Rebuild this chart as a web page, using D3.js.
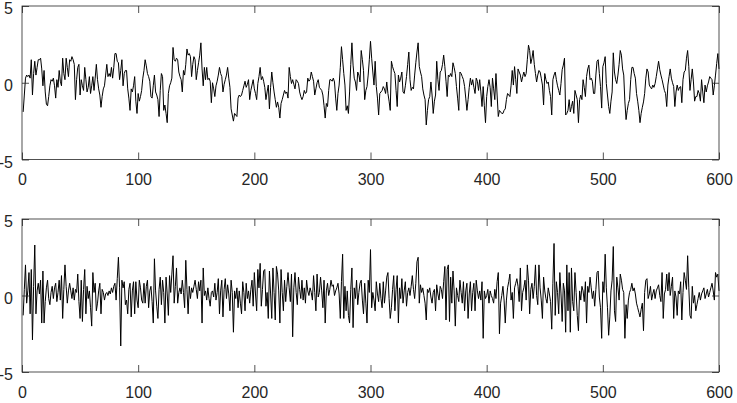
<!DOCTYPE html>
<html>
<head>
<meta charset="utf-8">
<script src="https://cdn.jsdelivr.net/npm/d3@7"></script>
<style>
  body { margin: 0; background: #fff; }
  svg text { font-family: "Liberation Sans", Arial, Helvetica, sans-serif; }
</style>
</head>
<body>
<div id="chart"></div>
<script>
// senal superior (600 muestras)
const serie1 = [
  -1.9, -0.8, 0.3, 0.5, 0.4, 0.5, 0.3, 1.5, -0.8, 0.6,
  1.4, 0.5, 1.0, 1.5, 1.5, 1.6, 0.9, -0.2, 0.8, -0.6,
  -1.4, -1.5, -0.9, -0.2, 0.2, 0.1, 0.3, -0.2, -1.0, 0.2,
  -0.3, 0.8, 0.1, -0.2, 1.6, 0.6, 0.2, 1.6, 1.0, 0.4,
  1.5, 1.4, 1.7, 1.5, 1.2, -1.1, 0.2, 1.0, 1.2, -0.8,
  0.2, -0.2, -0.5, 1.0, 0.2, -0.6, -0.3, 0.4, -0.7, -0.2,
  0.4, -0.5, 0.3, 1.2, 0.2, -0.4, -0.8, -1.6, -0.9, -0.4,
  -0.2, 0.5, 1.2, 0.4, 0.6, 0.4, 1.0, 0.3, 1.0, 1.9,
  1.9, 1.4, 1.3, 0.2, 0.8, 1.5, -0.2, 0.6, 0.8, 0.8,
  -0.4, -1.0, -1.8, -0.4, -0.6, -0.2, 0.4, -1.2, -2.0, -0.7,
  -1.2, -0.9, -0.5, 0.3, 0.8, 1.5, 1.1, 0.6, 0.4, 0.1,
  -0.9, -1.0, -0.2, 0.5, -0.6, -0.8, -1.1, -2.2, -0.5, 0.6,
  0.4, -1.8, -1.45, -2.0, -2.6, -0.7, -0.2, 0.0, 0.3, 2.3,
  1.5, 1.4, 1.6, 1.5, 0.7, 0.4, 0.2, -0.6, 0.8, 0.5,
  1.2, 2.2, 1.8, 1.9, 1.7, 0.4, 1.2, 1.7, 1.5, 0.2,
  0.8, 1.3, 1.8, 2.6, 0.9, -0.2, 1.0, 0.2, 1.0, 0.2,
  0.3, 0.1, -1.3, 0.0, -0.4, -0.9, -0.2, 0.1, 0.5, 1.0,
  0.6, 0.4, -0.6, -0.1, 0.2, 0.5, 1.0, 0.3, -0.3, -1.7,
  -2.1, -2.5, -2.0, -2.1, -2.2, -1.0, -0.8, -0.9, -0.8, -0.5,
  -0.2, 0.1, -0.3, -0.1, 0.2, -1.1, -0.5, -0.15, 0.2, -0.4,
  -0.7, -1.1, -0.05, 0.4, 1.0, 0.2, 0.4, 0.1, -0.3, -1.1,
  -0.6, -0.15, -1.7, -0.3, 0.7, 0.0, -0.6, -1.1, -1.6, -1.25,
  -1.6, -2.3, -1.35, -1.1, -0.8, -0.5, -0.7, -0.6, -1.0, 1.0,
  0.4, -0.05, 0.2, -0.1, -0.4, 0.2, 0.1, -0.05, -0.6, -0.9,
  -1.1, -0.9, -0.5, -0.7, -0.6, 0.3, 0.1, 0.2, 0.7, 0.4,
  0.1, -0.8, -0.4, 0.0, 0.2, -0.3, -0.4, -0.5, -0.8, -1.5,
  -2.3, -1.35, -1.55, -0.5, 0.2, 0.2, 0.1, 0.3, 0.05, -1.0,
  -1.8, -0.7, -0.15, 1.0, 2.35, 1.5, 0.6, -0.15, -1.8, -1.5,
  -2.0, -0.6, 1.2, 2.6, 1.15, 0.3, 0.05, -0.5, 0.7, 0.5,
  0.05, 2.1, 1.5, 0.8, -1.1, -0.5, -0.25, 0.5, 1.5, 2.7,
  1.6, 0.7, -0.15, 1.4, -0.25, -1.0, -2.1, -0.7, -0.6, -0.5,
  -0.25, -0.4, -0.7, 0.05, -0.7, -1.2, -1.8, 1.4, 1.05, 0.8,
  0.6, -0.5, -1.55, 0.5, 0.05, 0.3, 0.7, -0.6, -0.7, -0.2,
  0.4, 1.2, 2.0, 0.2, -0.5, -0.3, -0.4, 0.5, 1.3, 2.0,
  2.6, 1.05, 0.7, 0.4, -0.4, -0.8, -1.1, -2.75, -1.8, -1.1,
  -0.9, 0.05, -0.8, -2.0, -1.2, -0.8, 1.4, 0.2, -0.5, 0.7,
  0.8, 1.2, 1.8, 1.05, 0.1, -0.9, 0.5, 0.4, 0.6, 0.4,
  1.3, 1.0, 0.6, -0.25, -1.0, -1.8, 0.7, 0.6, 0.4, 0.2,
  -0.25, -1.0, -1.8, -1.1, -0.3, 0.3, -0.15, 0.2, -0.3, -0.7,
  0.3, 0.1, -0.5, 0.2, -0.6, -1.55, -0.25, -1.5, -2.6, -0.9,
  -0.25, 0.2, -0.3, -1.55, 0.3, -0.4, -1.1, 0.6, -0.8, -2.2,
  -1.8, -1.9, -2.0, -2.0, -1.8, -1.7, -1.1, -0.7, -0.8, -0.9,
  -0.2, 0.8, -0.15, 1.05, 0.2, -0.7, 0.9, 0.7, 0.5, 0.05,
  0.4, 0.7, 0.4, 0.6, 1.5, 2.45, 2.1, 1.25, 1.6, 2.1,
  1.2, 0.6, 0.05, 0.5, 0.8, 0.7, 0.3, -0.15, -1.45, 0.6,
  0.2, -0.05, 0.05, -0.5, -0.9, -2.1, 0.2, 0.5, 0.7, 0.2,
  -0.2, -0.5, -0.8, -0.05, 0.85, 1.15, 1.6, -2.1, -2.0, -1.8,
  -1.1, -1.9, -1.55, -1.2, -2.0, -0.5, -0.8, -1.1, -2.6, -1.1,
  -0.8, -1.1, 0.2, -0.3, -0.9, 0.4, 0.9, 1.15, 0.2, 0.3,
  0.1, -0.7, -0.7, 0.5, 1.4, 1.5, 0.6, -0.25, -1.65, 1.05,
  1.3, 1.7, -0.05, -0.8, -1.55, -2.0, -1.2, -0.6, 1.95, 0.7,
  0.2, -0.05, 0.5, 1.2, 2.1, 1.8, 0.9, 0.5, -1.25, -2.4,
  -1.8, -1.35, -1.1, 0.2, 1.0, 1.0, 0.6, 0.3, -0.7, -1.2,
  -1.8, -2.6, -2.0, -1.6, -1.25, -0.7, 0.3, 0.9, 0.7, -0.15,
  -0.3, -0.4, -0.15, -0.3, -0.05, 0.4, 0.9, 1.4, 0.85, 0.5,
  0.2, -0.15, -0.5, -0.7, -1.55, -0.15, 0.4, 0.9, 0.3, 0.0,
  -0.25, -1.55, -0.6, -0.15, -0.5, -0.3, -0.25, -1.3, 0.2, 0.7,
  0.8, 1.6, 2.1, 1.05, -0.5, 0.2, 0.9, 0.05, -1.2, -0.9,
  -0.9, -0.5, -0.7, -1.2, 0.2, -0.6, -1.3, -0.15, -0.6, -0.2,
  0.05, 0.4, 0.3, 0.2, -0.8, -0.2, 0.5, 1.25, 1.9, 0.9
];

// senal inferior (600 muestras)
const serie2 = [
  -1.3, 0.4, 2.0, -0.5, 0.3, 1.5, -1.2, 1.7, -2.9, 0.6,
  3.3, -1.2, 0.3, 0.8, 0.1, 1.0, -1.8, 1.6, -1.8, -0.4,
  0.5, 1.0, -0.2, -0.6, 0.2, 0.6, -0.2, 0.5, 0.8, -0.4,
  0.2, 1.0, -0.3, 1.3, -1.5, 0.4, 2.0, 0.6, -0.5, 0.3,
  0.8, 0.3, -0.2, 0.5, -0.3, 0.4, 0.2, 1.4, -0.4, -1.5,
  1.0, -1.7, 0.4, 1.7, -1.2, 0.6, -0.2, 0.3, -0.8, -2.0,
  1.5, 0.2, 0.8, -1.0, -0.5, 0.3, 0.8, -1.2, 0.4, 0.2,
  -0.3, 0.1, 0.2, 0.0, 0.3, 0.1, 0.5, 0.2, 0.6, 0.8,
  -0.3, 1.1, 2.5, 0.5, -3.3, 1.0, 0.5, 0.9, -0.6, -0.3,
  -1.2, 0.4, 0.8, -1.4, 0.3, 0.9, -1.2, 0.9, -0.3, -0.8,
  1.0, 0.5, -0.3, -0.5, 0.8, -0.5, 0.6, 1.0, -0.8, 0.3,
  0.6, -0.4, -1.8, 2.4, 0.3, -0.7, -1.5, 0.4, 1.2, -0.6,
  1.0, 0.2, -1.8, 1.2, 0.1, -1.3, 1.3, 0.2, 1.4, 2.6,
  -0.5, 0.6, 1.8, -0.5, 0.2, 0.5, 0.1, 1.0, 0.2, -0.8,
  2.3, 0.4, -1.2, 0.6, -0.2, 0.5, 0.2, 0.6, 1.0, 0.4,
  -0.2, 0.9, 0.3, 1.0, -1.8, 1.8, 0.0, 0.3, -0.3, 0.5,
  -0.2, -0.7, 0.2, 0.3, -0.1, 0.8, -0.3, 0.2, 1.1, -1.2,
  0.3, 1.0, -1.4, 0.4, 1.1, -0.2, 0.7, 0.1, -1.0, 1.0,
  0.2, -2.4, 0.3, -0.2, 0.5, -0.8, 0.3, -0.5, -1.2, 0.9,
  0.2, -1.0, 0.8, -0.2, 0.3, -0.5, 0.4, 1.0, -0.7, 1.5,
  0.1, -1.0, 1.7, 0.5, 2.1, -0.7, 0.4, 1.6, 1.7, -0.7,
  0.2, -1.5, 1.6, 0.1, -1.5, 1.8, 0.2, -1.6, 1.9, 1.4,
  0.3, -1.8, 1.7, 0.2, -1.0, 1.0, -0.4, 0.6, 1.5, 0.5,
  -0.4, 1.4, -2.7, 0.5, 1.5, 0.2, -0.6, 1.2, 0.4, -0.2,
  1.0, -0.3, 0.5, -0.5, 1.0, 0.3, 0.0, 0.5, 0.2, -0.3,
  1.3, 0.2, -1.0, 1.4, -0.1, 0.2, 1.2, 0.3, -0.8, 1.0,
  -1.8, 0.3, 0.8, 0.0, 0.4, 1.0, 0.6, 0.7, 0.0, 0.3,
  0.5, 0.8, 0.1, -1.5, 0.9, 2.7, -1.5, 0.6, -1.0, 0.3,
  -1.3, -1.8, 0.4, 1.8, -2.1, 0.5, -0.2, 1.0, -0.6, 0.2,
  0.8, 1.0, -0.3, -1.2, 0.8, -0.5, -1.8, 1.0, 0.2, 3.0,
  -0.8, 0.2, -0.3, -1.0, 0.9, 0.1, -0.4, 0.8, -0.2, -0.8,
  0.9, -0.5, 0.3, 1.2, 1.5, -0.2, -1.5, -0.8, 0.4, 1.3,
  -1.0, 0.4, 1.3, -1.8, 0.5, -0.2, 1.1, -0.5, 0.3, 0.9,
  -0.7, 0.2, 0.5, 0.0, 0.6, 1.3, 0.4, -0.2, 0.8, 2.2,
  2.5, -0.5, 0.7, 0.2, 0.5, 0.0, -0.5, -1.6, 0.4, 0.2,
  0.5, -0.1, -0.5, 0.2, 0.4, -1.0, 0.7, 0.1, -0.3, 0.6,
  0.4, -0.2, 0.9, 1.9, -1.6, 1.7, 2.0, -1.7, 1.2, -0.5,
  1.6, 0.3, -2.0, 0.5, 0.0, -0.4, 1.0, 0.2, -0.5, 0.9,
  -1.0, 0.3, 0.8, -1.5, 0.1, 0.9, -1.0, 0.2, 0.8, -1.0,
  1.0, 0.3, -0.2, 0.3, -0.3, 0.9, -2.8, 0.3, -0.2, 0.0,
  0.4, -0.5, 0.3, 0.0, -0.2, -0.5, 0.4, -0.2, 0.9, 1.5,
  -2.5, -0.5, 0.0, 0.6, -0.3, -1.8, -0.3, 0.5, 0.9, 1.4,
  -0.3, 0.2, -1.5, 0.5, 0.8, 1.1, 0.6, -0.4, 1.8, -1.0,
  0.2, 0.5, 1.0, -0.3, 2.0, 1.0, -1.2, 0.4, 0.8, -0.2,
  0.6, 2.0, 0.0, -0.6, 2.0, 0.5, -0.3, -1.5, 1.2, 0.3,
  -0.2, -0.5, 0.5, 0.1, -0.4, -2.2, 0.8, 3.4, -1.3, 0.9,
  0.2, -1.2, 1.5, 0.1, -1.7, 0.8, 0.3, -2.4, 2.0, -1.0,
  1.5, -2.4, 1.8, -0.4, -1.0, 1.5, 0.2, -1.3, -2.3, 0.3,
  -0.3, 0.6, 0.3, -0.4, 0.9, -1.8, 0.6, 0.2, 1.2, 0.5,
  -0.2, 0.3, -0.7, 0.4, 1.5, 1.6, -0.1, -0.8, -2.8, 0.9,
  0.2, 2.7, 0.5, -0.8, -2.6, -1.4, 0.3, 1.0, 3.2, -1.0,
  -1.7, 1.2, 0.5, -0.3, 1.4, 1.0, 0.4, 0.2, -2.8, -0.6,
  -1.5, -0.3, 0.2, 0.4, 0.8, 0.3, 0.5, 0.1, -0.5, -0.8,
  -1.1, -1.4, -0.9, -0.5, -2.3, 0.2, 1.0, 1.1, -0.2, 0.1,
  0.6, -0.3, 0.1, 0.4, -0.2, 0.3, 0.5, 0.7, 0.0, -0.4,
  1.5, -1.5, 0.1, 0.4, 1.4, 0.3, 1.5, 0.0, 0.6, 1.2,
  -1.5, 0.3, -0.1, -1.3, 0.3, 0.1, 0.9, -1.6, 0.2, 1.5,
  1.0, 0.4, 2.6, 0.5, -1.3, -1.5, 0.6, -0.5, 0.0, -1.0,
  -0.6, -0.2, 0.2, -0.3, 0.1, 0.3, 0.5, -0.2, 0.1, 0.4,
  -0.1, 0.2, 0.5, 0.8, 0.3, -0.3, 1.5, 1.2, 1.4, 0.3
];

const xTicks = [0, 100, 200, 300, 400, 500, 600];
const yTicks = [-5, 0, 5];

// Dimensiones
const width = 737;
const height = 403;
const left = 22, right = 719;
const paneles = [
  {datos: serie1, top: 6, bottom: 159.5},
  {datos: serie2, top: 219, bottom: 372}
];
const colorEje = "#262626";

const svg = d3.select("#chart")
  .append("svg")
  .attr("width", width)
  .attr("height", height)
  .style("background", "#fff");

const x = d3.scaleLinear().domain([0, 600]).range([left, right]);

paneles.forEach(function (p) {
  const y = d3.scaleLinear().domain([-5, 5]).range([p.bottom, p.top]);
  const g = svg.append("g");

  // la senal
  const linea = d3.line()
    .x((d, i) => x(i + 1))
    .y(d => y(d));

  g.append("path")
    .datum(p.datos)
    .attr("d", linea)
    .attr("fill", "none")
    .attr("stroke", "#000")
    .attr("stroke-width", 1)
    .attr("stroke-linejoin", "round");

  // ejes con marcas hacia dentro
  const ejeX = d3.axisBottom(x).tickValues(xTicks).tickFormat(d => String(d))
    .tickSizeInner(-7).tickSizeOuter(0).tickPadding(14.5);
  const ejeXsup = d3.axisTop(x).tickValues(xTicks).tickFormat("")
    .tickSizeInner(-7).tickSizeOuter(0);
  const ejeY = d3.axisLeft(y).tickValues(yTicks).tickFormat(d => String(d))
    .tickSizeInner(-7).tickSizeOuter(0).tickPadding(9);
  const ejeYder = d3.axisRight(y).tickValues(yTicks).tickFormat("")
    .tickSizeInner(-7).tickSizeOuter(0);

  const gx = g.append("g").attr("transform", `translate(0,${p.bottom})`).call(ejeX);
  const gxs = g.append("g").attr("transform", `translate(0,${p.top})`).call(ejeXsup);
  const gy = g.append("g").attr("transform", `translate(${left},0)`).call(ejeY);
  const gyd = g.append("g").attr("transform", `translate(${right},0)`).call(ejeYder);

  [gx, gxs, gy, gyd].forEach(function (a) {
    a.select(".domain").remove();
    a.selectAll(".tick line").attr("stroke", colorEje).attr("stroke-width", 0.8);
    a.selectAll(".tick text")
      .attr("fill", colorEje)
      .style("font-size", "16px");
  });
  // las etiquetas de y van un poco mas abajo, como en el original
  gy.selectAll(".tick text").attr("dy", "0.47em");

  // caja
  g.append("rect")
    .attr("x", left)
    .attr("y", p.top)
    .attr("width", right - left)
    .attr("height", p.bottom - p.top)
    .attr("fill", "none")
    .attr("stroke", colorEje)
    .attr("stroke-width", 0.8);
});
</script>
</body>
</html>
